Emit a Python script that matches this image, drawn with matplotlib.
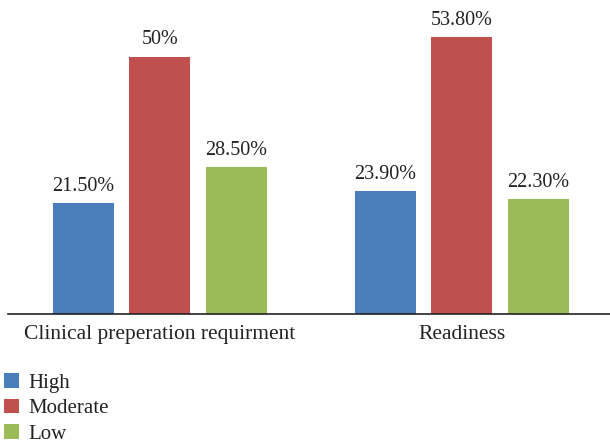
import numpy as np
import matplotlib.pyplot as plt

categories = ["Clinical preperation requirment", "Readiness"]
series = ["High", "Moderate", "Low"]
high = [21.5, 23.9]
moderate = [50.0, 53.8]
low = [28.5, 22.3]
labels = [["21.50%", "23.90%"], ["50%", "53.80%"], ["28.50%", "22.30%"]]
colors = ["#4a7ebb", "#c0504d", "#9bbb59"]

plt.rcParams['font.family'] = ['Liberation Serif', 'DejaVu Serif']

fig = plt.figure(figsize=(6.1, 4.43), dpi=100)
ax = fig.add_axes([8/610, 1 - 314/443, 1 - 8/610, 314/443])

x = np.arange(len(categories))
w = 0.202
step = 0.253
for i, (vals, name) in enumerate(zip([high, moderate, low], series)):
    pos = x + (i - 1) * step
    bars = ax.bar(pos, vals, w, color=colors[i], label=name)
    for b, lab in zip(bars, labels[i]):
        ax.text(b.get_x() + b.get_width() / 2, b.get_height() + 1.4, lab,
                ha='center', va='bottom', fontsize=14.5, color='#222222')

ax.set_xlim(-0.503, 1.49)
ax.set_ylim(0, 61)
ax.set_xticks(x)
ax.set_xticklabels(categories, fontsize=15.5, color='#222222')
ax.tick_params(axis='x', length=0, pad=8)
ax.set_yticks([])
for s in ['top', 'right', 'left']:
    ax.spines[s].set_visible(False)
ax.spines['bottom'].set_color('#222222')
ax.spines['bottom'].set_linewidth(1.2)

fig.legend(loc='upper left', bbox_to_anchor=(0.0, 1 - 369/443), frameon=False,
           fontsize=15, handlelength=0.7, handleheight=0.7, handletextpad=0.45,
           labelspacing=0.28, borderaxespad=0, borderpad=0.2, labelcolor='#222222')

fig.savefig("out.png", dpi=100)
